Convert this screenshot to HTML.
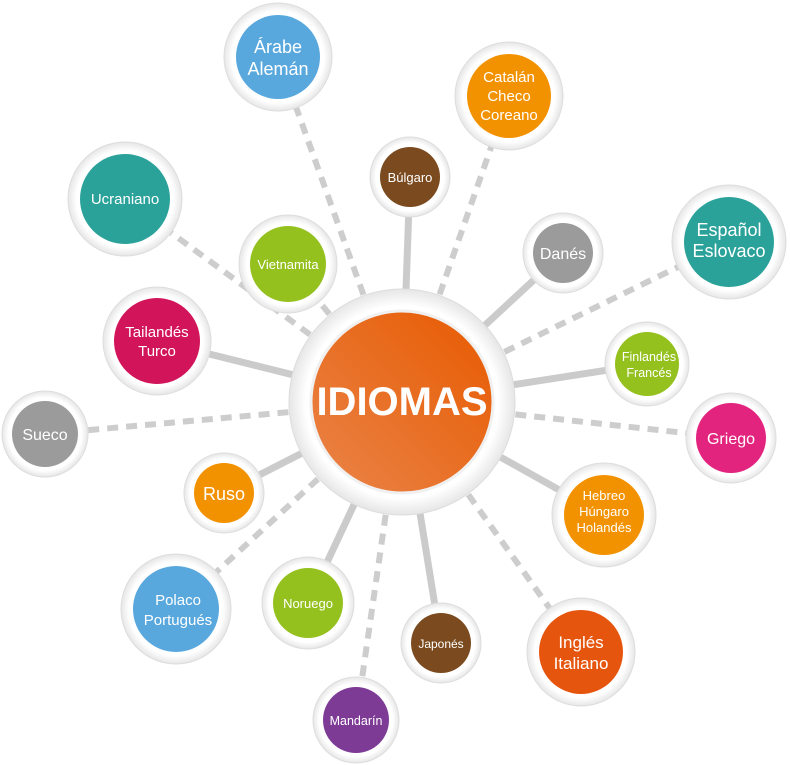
<!DOCTYPE html>
<html><head><meta charset="utf-8"><style>
html,body{margin:0;padding:0;background:#fff;}
svg{display:block;font-family:"Liberation Sans",sans-serif;}
</style></head><body>
<svg width="790" height="765" viewBox="0 0 790 765">
<defs>
<radialGradient id="ring" cx="50%" cy="50%" r="50%">
<stop offset="85%" stop-color="#ffffff"/><stop offset="100%" stop-color="#e6e6e6"/>
</radialGradient>
<linearGradient id="og" x1="1" y1="0" x2="0" y2="1">
<stop offset="0" stop-color="#e75a00"/><stop offset="1" stop-color="#ea8449"/>
</linearGradient>
</defs>
<g stroke="#cdcdcd" stroke-width="6" stroke-dasharray="11 8" fill="none">
<line x1="402" y1="402" x2="278" y2="57"/>
<line x1="402" y1="402" x2="509" y2="96"/>
<line x1="402" y1="402" x2="125" y2="199"/>
<line x1="402" y1="402" x2="729" y2="242"/>
<line x1="402" y1="402" x2="288" y2="264"/>
<line x1="402" y1="402" x2="45" y2="434"/>
<line x1="402" y1="402" x2="731" y2="438"/>
<line x1="402" y1="402" x2="176" y2="609"/>
<line x1="402" y1="402" x2="581" y2="652"/>
<line x1="402" y1="402" x2="356" y2="720"/>
</g>
<g stroke="#cbcbcb" stroke-width="7" fill="none">
<line x1="402" y1="402" x2="410" y2="177"/>
<line x1="402" y1="402" x2="563" y2="253"/>
<line x1="402" y1="402" x2="157" y2="341"/>
<line x1="402" y1="402" x2="647" y2="364"/>
<line x1="402" y1="402" x2="224" y2="493"/>
<line x1="402" y1="402" x2="604" y2="515"/>
<line x1="402" y1="402" x2="308" y2="603"/>
<line x1="402" y1="402" x2="441" y2="643"/>
</g>
<g id="nodes" font-size="15" fill="#fff" text-anchor="middle">
<!-- center -->
<circle cx="402" cy="402" r="113" fill="url(#ring)" stroke="#ddd" stroke-width="1"/>
<circle cx="402" cy="402" r="91" fill="url(#og)" stroke="#f0f0f0" stroke-width="3"/>
<text x="402" y="415" font-size="40" font-weight="bold" fill="#fff">IDIOMAS</text>

<g>
<circle cx="278" cy="57" r="54" fill="url(#ring)" stroke="#ddd"/><circle cx="278" cy="57" r="42" fill="#58a8de"/>
<text x="278" y="53" font-size="18" fill="#fff">Árabe</text><text x="278" y="75" font-size="18" fill="#fff">Alemán</text>
</g>
<g>
<circle cx="509" cy="96" r="54" fill="url(#ring)" stroke="#ddd"/><circle cx="509" cy="96" r="42" fill="#f39200"/>
<text x="509" y="82" fill="#fff">Catalán</text><text x="509" y="101" fill="#fff">Checo</text><text x="509" y="120" fill="#fff">Coreano</text>
</g>
<g>
<circle cx="410" cy="177" r="40" fill="url(#ring)" stroke="#ddd"/><circle cx="410" cy="177" r="30" fill="#7b4b1f"/>
<text x="410" y="182" font-size="13" fill="#fff">Búlgaro</text>
</g>
<g>
<circle cx="125" cy="199" r="57" fill="url(#ring)" stroke="#ddd"/><circle cx="125" cy="199" r="45" fill="#2aa29a"/>
<text x="125" y="204" fill="#fff">Ucraniano</text>
</g>
<g>
<circle cx="563" cy="253" r="40" fill="url(#ring)" stroke="#ddd"/><circle cx="563" cy="253" r="30" fill="#9b9b9b"/>
<text x="563" y="259" font-size="16" fill="#fff">Danés</text>
</g>
<g>
<circle cx="729" cy="242" r="57" fill="url(#ring)" stroke="#ddd"/><circle cx="729" cy="242" r="45" fill="#2aa29a"/>
<text x="729" y="236" font-size="18" fill="#fff">Español</text><text x="729" y="257" font-size="18" fill="#fff">Eslovaco</text>
</g>
<g>
<circle cx="288" cy="264" r="49" fill="url(#ring)" stroke="#ddd"/><circle cx="288" cy="264" r="38" fill="#95c11f"/>
<text x="288" y="269" font-size="13" fill="#fff">Vietnamita</text>
</g>
<g>
<circle cx="157" cy="341" r="54" fill="url(#ring)" stroke="#ddd"/><circle cx="157" cy="341" r="43" fill="#d2145a"/>
<text x="157" y="337" fill="#fff">Tailandés</text><text x="157" y="356" fill="#fff">Turco</text>
</g>
<g>
<circle cx="647" cy="364" r="42" fill="url(#ring)" stroke="#ddd"/><circle cx="647" cy="364" r="32" fill="#95c11f"/>
<text x="649" y="361" font-size="12.5" fill="#fff">Finlandés</text><text x="649" y="377" font-size="12.5" fill="#fff">Francés</text>
</g>
<g>
<circle cx="45" cy="434" r="43" fill="url(#ring)" stroke="#ddd"/><circle cx="45" cy="434" r="33" fill="#9b9b9b"/>
<text x="45" y="440" font-size="16" fill="#fff">Sueco</text>
</g>
<g>
<circle cx="731" cy="438" r="45" fill="url(#ring)" stroke="#ddd"/><circle cx="731" cy="438" r="35" fill="#e3247f"/>
<text x="731" y="444" font-size="16" fill="#fff">Griego</text>
</g>
<g>
<circle cx="224" cy="493" r="40" fill="url(#ring)" stroke="#ddd"/><circle cx="224" cy="493" r="30" fill="#f39200"/>
<text x="224" y="500" font-size="18" fill="#fff">Ruso</text>
</g>
<g>
<circle cx="604" cy="515" r="52" fill="url(#ring)" stroke="#ddd"/><circle cx="604" cy="515" r="40" fill="#f39200"/>
<text x="604" y="500" font-size="13" fill="#fff">Hebreo</text><text x="604" y="516" font-size="13" fill="#fff">Húngaro</text><text x="604" y="532" font-size="13" fill="#fff">Holandés</text>
</g>
<g>
<circle cx="176" cy="609" r="55" fill="url(#ring)" stroke="#ddd"/><circle cx="176" cy="609" r="43" fill="#58a8de"/>
<text x="178" y="605" fill="#fff">Polaco</text><text x="178" y="625" fill="#fff">Portugués</text>
</g>
<g>
<circle cx="308" cy="603" r="46" fill="url(#ring)" stroke="#ddd"/><circle cx="308" cy="603" r="35" fill="#95c11f"/>
<text x="308" y="608" font-size="13" fill="#fff">Noruego</text>
</g>
<g>
<circle cx="441" cy="643" r="40" fill="url(#ring)" stroke="#ddd"/><circle cx="441" cy="643" r="30" fill="#7b4b1f"/>
<text x="441" y="648" font-size="12" fill="#fff">Japonés</text>
</g>
<g>
<circle cx="581" cy="652" r="54" fill="url(#ring)" stroke="#ddd"/><circle cx="581" cy="652" r="42" fill="#e6550d"/>
<text x="581" y="648" font-size="17" fill="#fff">Inglés</text><text x="581" y="669" font-size="17" fill="#fff">Italiano</text>
</g>
<g>
<circle cx="356" cy="720" r="43" fill="url(#ring)" stroke="#ddd"/><circle cx="356" cy="720" r="33" fill="#7e3b96"/>
<text x="356" y="725" font-size="12.5" fill="#fff">Mandarín</text>
</g>
</g>
</svg>
</body></html>
